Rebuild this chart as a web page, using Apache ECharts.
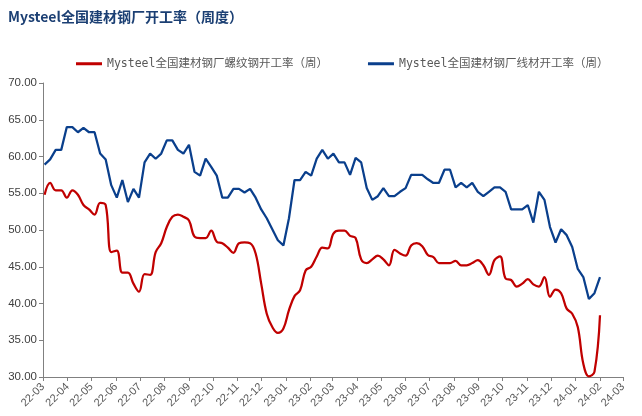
<!DOCTYPE html>
<html>
<head>
<meta charset="utf-8">
<script src="https://cdn.jsdelivr.net/npm/echarts@6/dist/echarts.min.js"></script>
<style>
  html, body { margin: 0; padding: 0; background: #fff; }
  #chart { width: 642px; height: 416px; }
</style>
</head>
<body>
<div id="chart"></div>
<script>
// 周度数据：2022-03-03 起每周一个点
const firstWeek = "2022-03-03";
const weekCount = 101;
const weeks = [];
for (let i = 0; i < weekCount; i++) {
  const d = new Date(firstWeek + "T00:00:00");
  d.setDate(d.getDate() + 7 * i);
  weeks.push(d.getTime());
}

const seriesNames = [
  "Mysteel全国建材钢厂螺纹钢开工率（周）",
  "Mysteel全国建材钢厂线材开工率（周）",
];

// 螺纹钢开工率
const rebarRate = [
  54.8, 56.4, 55.4, 55.4, 54.4, 55.4, 54.8, 53.4, 52.8, 52.1,
  53.7, 53.4, 47.0, 47.2, 44.2, 44.2, 42.7, 41.6, 44.0, 43.9,
  47.0, 48.2, 50.4, 51.8, 52.1, 51.8, 51.3, 49.1, 48.9, 48.9,
  49.9, 48.4, 48.2, 47.6, 46.9, 48.2, 48.3, 48.2, 46.8, 42.7,
  38.6, 36.8, 36.0, 36.6, 39.1, 41.0, 41.8, 44.5, 45.0, 46.4,
  47.6, 47.5, 49.5, 49.9, 49.9, 49.2, 48.9, 46.0, 45.5, 46.0,
  46.5, 46.0, 45.2, 47.3, 46.8, 46.5, 47.9, 48.2, 47.8, 46.6,
  46.3, 45.5, 45.5, 45.5, 45.8, 45.2, 45.2, 45.5, 45.9, 45.2,
  43.9, 45.9, 46.4, 43.4, 43.2, 42.3, 42.7, 43.3, 42.6, 42.3,
  43.6, 40.9, 41.9, 41.4, 39.3, 38.6, 36.8, 31.8, 30.1, 30.7,
  38.4,
];

// 线材开工率
const wireRate = [
  58.9, 59.6, 60.9, 60.9, 64.0, 64.0, 63.3, 63.9, 63.3, 63.3,
  60.4, 59.6, 56.1, 54.4, 56.8, 53.8, 55.6, 54.4, 59.2, 60.4,
  59.7, 60.4, 62.2, 62.2, 60.9, 60.4, 61.6, 57.9, 57.4, 59.7,
  58.6, 57.4, 54.4, 54.4, 55.6, 55.6, 55.1, 55.6, 54.4, 52.8,
  51.6, 50.1, 48.6, 47.9, 51.6, 56.8, 56.8, 57.9, 57.4, 59.7,
  60.9, 59.7, 60.4, 59.2, 59.2, 57.5, 59.8, 59.2, 55.7, 54.1,
  54.6, 55.7, 54.6, 54.6, 55.2, 55.7, 57.5, 57.5, 57.5, 56.9,
  56.4, 56.4, 58.2, 58.2, 55.8, 56.4, 55.8, 56.4, 55.2, 54.6,
  55.2, 55.8, 55.8, 55.2, 52.8, 52.8, 52.8, 53.4, 51.0, 55.2,
  54.1, 50.4, 48.3, 50.1, 49.3, 47.7, 44.7, 43.6, 40.6, 41.4,
  43.6,
];

const chart = echarts.init(document.getElementById("chart"));
const pad = (n) => (n < 10 ? "0" + n : "" + n);

const option = {
  animation: false,
  title: {
    text: "Mysteel全国建材钢厂开工率（周度）",
    left: 3,
    top: 5,
    textStyle: {
      color: "#1B3F73",
      fontSize: 14,
      fontWeight: "bold",
      fontFamily: "Noto Sans CJK SC",
    },
  },
  legend: {
    top: 53,
    left: 71,
    itemWidth: 26,
    itemHeight: 3,
    itemGap: 40,
    icon: "rect",
    textStyle: {
      color: "#595959",
      fontSize: 11.5,
      fontFamily: "DejaVu Sans Mono, Noto Sans CJK SC",
    },
    data: seriesNames,
  },
  grid: {
    left: 43,
    right: 19,
    top: 83,
    bottom: 39,
  },
  xAxis: {
    type: "time",
    min: "2022-03-01",
    max: "2024-03-01",
    splitNumber: 24,
    minInterval: 28 * 86400000,
    maxInterval: 31 * 86400000,
    axisLine: { lineStyle: { color: "#808080", width: 1 } },
    axisTick: { show: true, length: 4, lineStyle: { color: "#808080" } },
    splitLine: { show: false },
    axisLabel: {
      rotate: 45,
      color: "#595959",
      fontSize: 11,
      fontFamily: "Liberation Sans",
      showMinLabel: true,
      showMaxLabel: true,
      hideOverlap: false,
      formatter: (v) => {
        const d = new Date(v);
        return pad(d.getFullYear() % 100) + "-" + pad(d.getMonth() + 1);
      },
    },
  },
  yAxis: {
    type: "value",
    min: 30,
    max: 70,
    interval: 5,
    axisLine: { show: true, lineStyle: { color: "#808080", width: 1 } },
    axisTick: { show: true, length: 4, lineStyle: { color: "#808080" } },
    splitLine: { show: false },
    axisLabel: {
      color: "#404040",
      fontSize: 11.5,
      fontFamily: "Liberation Sans",
      margin: 6,
      formatter: (v) => v.toFixed(2),
    },
  },
  series: [
    {
      name: seriesNames[0],
      type: "line",
      data: weeks.map((t, i) => [t, rebarRate[i]]),
      smooth: 0.4,
      showSymbol: false,
      lineStyle: { color: "#C00000", width: 2.25 },
      itemStyle: { color: "#C00000" },
    },
    {
      name: seriesNames[1],
      type: "line",
      data: weeks.map((t, i) => [t, wireRate[i]]),
      showSymbol: false,
      lineStyle: { color: "#0A3F8C", width: 2.25 },
      itemStyle: { color: "#0A3F8C" },
    },
  ],
};

chart.setOption(option);
</script>
</body>
</html>
